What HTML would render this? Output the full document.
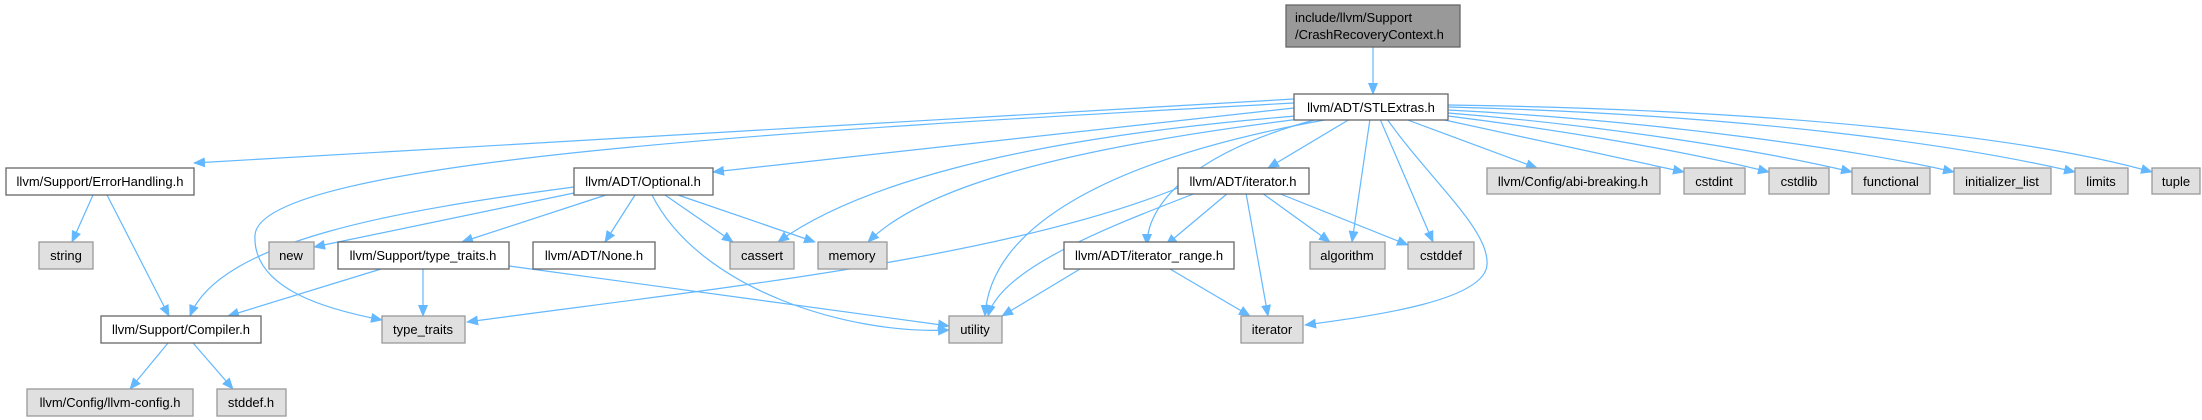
<!DOCTYPE html>
<html><head><meta charset="utf-8"><style>
html,body{margin:0;padding:0;background:#fff;}
svg{display:block;}
text{font-family:"Liberation Sans",Arial,sans-serif;font-size:13px;fill:#000;}
</style></head><body>
<svg width="2202" height="420" viewBox="0 0 2202 420" xmlns="http://www.w3.org/2000/svg">
<defs>
<marker id="a" markerWidth="12" markerHeight="10" refX="11" refY="5" orient="auto" markerUnits="userSpaceOnUse">
<path d="M0,0 L12,5 L0,10 z" fill="#63b8ff"/>
</marker>
</defs>
<g fill="none" stroke="#63b8ff" stroke-width="1.2" marker-end="url(#a)">
<path d="M1373,47 L1373,94"/>
<path d="M1294,99 L194,163"/>
<path d="M1294,108 L713,172"/>
<path d="M1294,103 C800,130 260,160 255,235 C252,290 330,310 382,320"/>
<path d="M1296,116 C1000,140 850,190 778,242"/>
<path d="M1300,119 C1050,150 920,190 868,242"/>
<path d="M1330,119 C1100,160 990,230 985,316"/>
<path d="M1318,119 C1200,150 1147,200 1147,245"/>
<path d="M1350,119 L1268,168"/>
<path d="M1370,119 L1352,242"/>
<path d="M1380,119 L1433,242"/>
<path d="M1387,119 C1430,180 1490,230 1487,265 C1484,300 1380,315 1305,325"/>
<path d="M1405,119 L1537,168"/>
<path d="M1440,119 L1684,172"/>
<path d="M1448,116 C1560,130 1680,150 1769,172"/>
<path d="M1448,113 C1600,125 1760,150 1852,172"/>
<path d="M1448,110 C1650,120 1860,150 1954,172"/>
<path d="M1448,107 C1750,115 1960,145 2075,172"/>
<path d="M1448,105 C1800,110 2040,140 2152,172"/>
<path d="M574,187 C400,210 220,240 190,316"/>
<path d="M574,193 L314,247"/>
<path d="M606,195 L462,242"/>
<path d="M635,195 L605,242"/>
<path d="M665,195 L733,242"/>
<path d="M678,195 L815,242"/>
<path d="M652,195 C700,290 850,335 949,330"/>
<path d="M93,195 L72,242"/>
<path d="M107,195 L169,316"/>
<path d="M381,269 L228,316"/>
<path d="M423,269 L423,316"/>
<path d="M509,266 L949,326"/>
<path d="M168,343 L130,389"/>
<path d="M193,343 L233,389"/>
<path d="M1178,188 C1000,260 700,290 467,322"/>
<path d="M1196,193 C1100,230 1000,270 988,316"/>
<path d="M1228,193 L1166,245"/>
<path d="M1262,193 L1330,242"/>
<path d="M1278,193 L1408,245"/>
<path d="M1246,193 L1268,316"/>
<path d="M1080,269 L1002,316"/>
<path d="M1170,269 L1250,316"/>
</g>
<g stroke-width="1.3">
<rect x="1286" y="5" width="174" height="42" fill="#999" stroke="#666"/>
<text x="1295" y="22">include/llvm/Support</text>
<text x="1295" y="39">/CrashRecoveryContext.h</text>

<rect x="1294" y="94" width="154" height="26" fill="#fff" stroke="#666"/>
<text x="1371" y="112" text-anchor="middle">llvm/ADT/STLExtras.h</text>

<rect x="6" y="168" width="188" height="27" fill="#fff" stroke="#666"/>
<text x="100" y="186" text-anchor="middle">llvm/Support/ErrorHandling.h</text>
<rect x="574" y="168" width="139" height="27" fill="#fff" stroke="#666"/>
<text x="643" y="186" text-anchor="middle">llvm/ADT/Optional.h</text>
<rect x="1178" y="168" width="131" height="26" fill="#fff" stroke="#666"/>
<text x="1243" y="186" text-anchor="middle">llvm/ADT/iterator.h</text>

<rect x="1487" y="168" width="173" height="26" fill="#e0e0e0" stroke="#999"/>
<text x="1573" y="186" text-anchor="middle">llvm/Config/abi-breaking.h</text>
<rect x="1684" y="168" width="61" height="26" fill="#e0e0e0" stroke="#999"/>
<text x="1714" y="186" text-anchor="middle">cstdint</text>
<rect x="1769" y="168" width="60" height="26" fill="#e0e0e0" stroke="#999"/>
<text x="1799" y="186" text-anchor="middle">cstdlib</text>
<rect x="1852" y="168" width="78" height="26" fill="#e0e0e0" stroke="#999"/>
<text x="1891" y="186" text-anchor="middle">functional</text>
<rect x="1954" y="168" width="97" height="26" fill="#e0e0e0" stroke="#999"/>
<text x="2002" y="186" text-anchor="middle">initializer_list</text>
<rect x="2075" y="168" width="53" height="26" fill="#e0e0e0" stroke="#999"/>
<text x="2101" y="186" text-anchor="middle">limits</text>
<rect x="2152" y="168" width="48" height="26" fill="#e0e0e0" stroke="#999"/>
<text x="2176" y="186" text-anchor="middle">tuple</text>

<rect x="39" y="242" width="54" height="27" fill="#e0e0e0" stroke="#999"/>
<text x="66" y="260" text-anchor="middle">string</text>
<rect x="269" y="242" width="45" height="27" fill="#e0e0e0" stroke="#999"/>
<text x="291" y="260" text-anchor="middle">new</text>
<rect x="338" y="242" width="171" height="27" fill="#fff" stroke="#666"/>
<text x="423" y="260" text-anchor="middle">llvm/Support/type_traits.h</text>
<rect x="533" y="242" width="122" height="27" fill="#fff" stroke="#666"/>
<text x="594" y="260" text-anchor="middle">llvm/ADT/None.h</text>
<rect x="730" y="242" width="64" height="27" fill="#e0e0e0" stroke="#999"/>
<text x="762" y="260" text-anchor="middle">cassert</text>
<rect x="818" y="242" width="69" height="27" fill="#e0e0e0" stroke="#999"/>
<text x="852" y="260" text-anchor="middle">memory</text>
<rect x="1064" y="242" width="170" height="27" fill="#fff" stroke="#666"/>
<text x="1149" y="260" text-anchor="middle">llvm/ADT/iterator_range.h</text>
<rect x="1310" y="242" width="75" height="27" fill="#e0e0e0" stroke="#999"/>
<text x="1347" y="260" text-anchor="middle">algorithm</text>
<rect x="1408" y="242" width="66" height="27" fill="#e0e0e0" stroke="#999"/>
<text x="1441" y="260" text-anchor="middle">cstddef</text>

<rect x="101" y="316" width="160" height="27" fill="#fff" stroke="#666"/>
<text x="181" y="334" text-anchor="middle">llvm/Support/Compiler.h</text>
<rect x="382" y="316" width="83" height="27" fill="#e0e0e0" stroke="#999"/>
<text x="423" y="334" text-anchor="middle">type_traits</text>
<rect x="949" y="316" width="53" height="27" fill="#e0e0e0" stroke="#999"/>
<text x="975" y="334" text-anchor="middle">utility</text>
<rect x="1241" y="316" width="62" height="27" fill="#e0e0e0" stroke="#999"/>
<text x="1272" y="334" text-anchor="middle">iterator</text>

<rect x="27" y="389" width="166" height="27" fill="#e0e0e0" stroke="#999"/>
<text x="110" y="407" text-anchor="middle">llvm/Config/llvm-config.h</text>
<rect x="217" y="389" width="69" height="27" fill="#e0e0e0" stroke="#999"/>
<text x="251" y="407" text-anchor="middle">stddef.h</text>
</g>
</svg>
</body></html>
